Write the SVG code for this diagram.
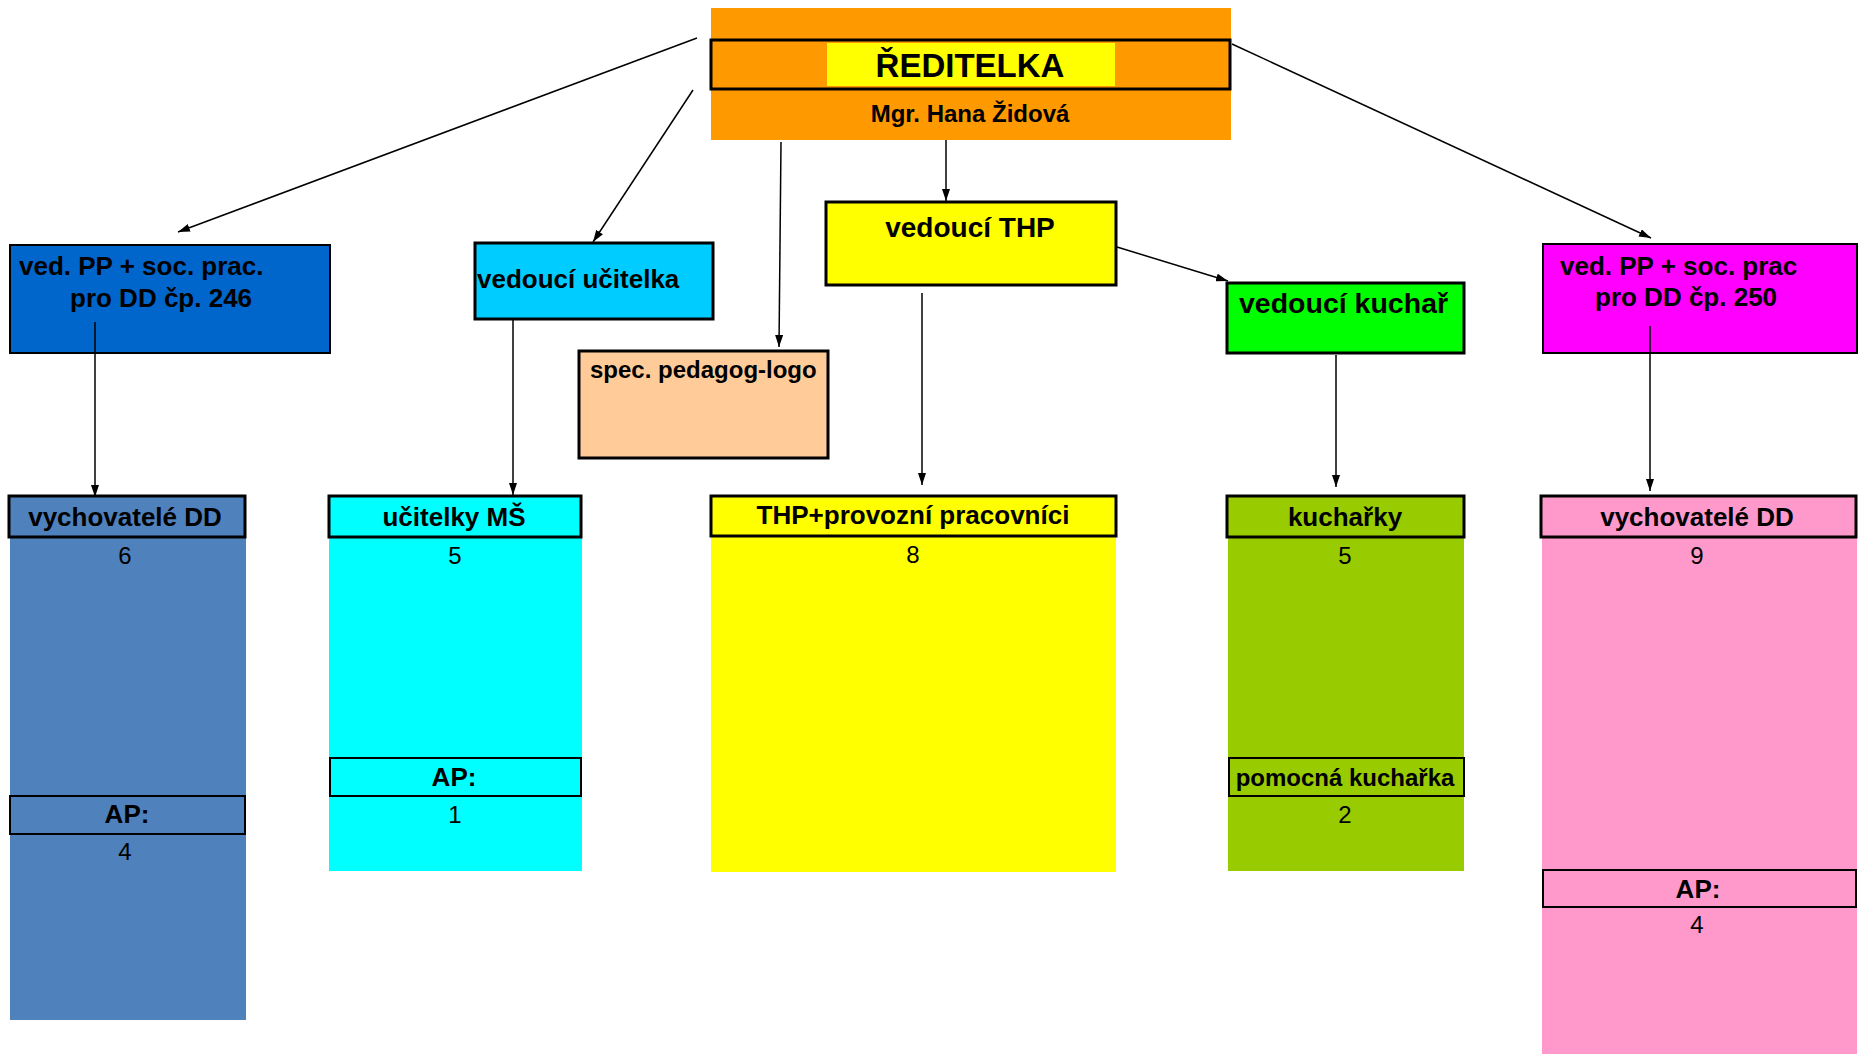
<svg xmlns="http://www.w3.org/2000/svg" width="1860" height="1054" viewBox="0 0 1860 1054">
<defs>
<marker id="ah" markerWidth="12" markerHeight="8" refX="12" refY="4" orient="auto" markerUnits="userSpaceOnUse">
<path d="M0,0 L12,4 L0,8 Z" fill="#000"/>
</marker>
<clipPath id="clipUc"><rect x="475" y="243" width="238" height="76"/></clipPath>
<style>
text{font-family:"Liberation Sans",Arial,sans-serif;fill:#000}
.b{font-weight:bold}
.c{text-anchor:middle}
.n{font-size:24px}
.thick{stroke:#000;stroke-width:3}
.thin{stroke:#000;stroke-width:2}
.conn line{stroke:#000;stroke-width:1.5;fill:none;marker-end:url(#ah)}
</style>
</defs>
<rect width="1860" height="1054" fill="#fff"/>

<g id="reditelka">
<rect x="711" y="8" width="520" height="132" fill="#FF9900"/>
<rect x="711" y="40" width="519" height="49" fill="#FF9900" class="thick"/>
<rect x="827" y="43" width="288" height="43" fill="#FFFF00"/>
<text x="970" y="77" class="b c" font-size="33">ŘEDITELKA</text>
<text x="970" y="122" class="b c" font-size="24">Mgr. Hana Židová</text>
</g>

<g id="ved-pp-246">
<rect x="10" y="245" width="320" height="108" fill="#0066CC" class="thin"/>
<text x="19" y="275" class="b" font-size="26">ved. PP + soc. prac.</text>
<text x="70" y="307" class="b" font-size="26">pro DD čp. 246</text>
</g>

<g id="vedouci-ucitelka">
<rect x="475" y="243" width="238" height="76" fill="#00CCFF"/>
<text x="477" y="288" class="b" font-size="26" clip-path="url(#clipUc)">vedoucí učitelka</text>
<rect x="475" y="243" width="238" height="76" fill="none" class="thick"/>
</g>

<g id="spec-pedagog">
<rect x="579" y="351" width="249" height="107" fill="#FFCC99" class="thick"/>
<text x="590" y="378" class="b" font-size="24">spec. pedagog-logo</text>
</g>

<g id="vedouci-thp">
<rect x="826" y="202" width="290" height="83" fill="#FFFF00" class="thick"/>
<text x="970" y="237" class="b c" font-size="28">vedoucí THP</text>
</g>

<g id="vedouci-kuchar">
<rect x="1227" y="283" width="237" height="70" fill="#00FF00" class="thick"/>
<text x="1239" y="313" class="b" font-size="28.5">vedoucí kuchař</text>
</g>

<g id="ved-pp-250">
<rect x="1543" y="244" width="314" height="109" fill="#FF00FF" class="thin"/>
<text x="1560" y="275" class="b" font-size="26">ved. PP + soc. prac</text>
<text x="1595" y="306" class="b" font-size="26">pro DD čp. 250</text>
</g>

<g id="vychovatele-246">
<rect x="10" y="537" width="236" height="483" fill="#4F81BD"/>
<rect x="9" y="496" width="236" height="41" fill="#4F81BD" class="thick"/>
<text x="125" y="526" class="b c" font-size="26">vychovatelé DD</text>
<text x="125" y="564" class="c n">6</text>
<rect x="10" y="796" width="235" height="38" fill="#4F81BD" class="thin"/>
<text x="127" y="823" class="b c" font-size="26">AP:</text>
<text x="125" y="860" class="c n">4</text>
</g>

<g id="ucitelky-ms">
<rect x="329" y="537" width="253" height="334" fill="#00FFFF"/>
<rect x="329" y="496" width="252" height="41" fill="#00FFFF" class="thick"/>
<text x="454" y="526" class="b c" font-size="26">učitelky MŠ</text>
<text x="455" y="564" class="c n">5</text>
<rect x="330" y="758" width="251" height="38" fill="#00FFFF" class="thin"/>
<text x="454" y="786" class="b c" font-size="26">AP:</text>
<text x="455" y="823" class="c n">1</text>
</g>

<g id="thp-provozni">
<rect x="711" y="537" width="405" height="335" fill="#FFFF00"/>
<rect x="711" y="496" width="405" height="40" fill="#FFFF00" class="thick"/>
<text x="913" y="524" class="b c" font-size="26">THP+provozní pracovníci</text>
<text x="913" y="563" class="c n">8</text>
</g>

<g id="kucharky">
<rect x="1228" y="537" width="236" height="334" fill="#99CC00"/>
<rect x="1227" y="496" width="237" height="41" fill="#99CC00" class="thick"/>
<text x="1345" y="526" class="b c" font-size="26">kuchařky</text>
<text x="1345" y="564" class="c n">5</text>
<rect x="1229" y="758" width="235" height="38" fill="#99CC00" class="thin"/>
<text x="1345" y="786" class="b c" font-size="24">pomocná kuchařka</text>
<text x="1345" y="823" class="c n">2</text>
</g>

<g id="vychovatele-250">
<rect x="1542" y="537" width="315" height="517" fill="#FF99CC"/>
<rect x="1541" y="496" width="315" height="41" fill="#FF99CC" class="thick"/>
<text x="1697" y="526" class="b c" font-size="26">vychovatelé DD</text>
<text x="1697" y="564" class="c n">9</text>
<rect x="1543" y="870" width="313" height="37" fill="#FF99CC" class="thin"/>
<text x="1698" y="898" class="b c" font-size="26">AP:</text>
<text x="1697" y="933" class="c n">4</text>
</g>

<g id="connectors" class="conn">
<line x1="697" y1="38" x2="178" y2="232"/>
<line x1="693" y1="90" x2="593" y2="242"/>
<line x1="781" y1="142" x2="779" y2="347"/>
<line x1="946" y1="140" x2="946" y2="201"/>
<line x1="1117" y1="247" x2="1228" y2="281"/>
<line x1="1232" y1="44" x2="1651" y2="238"/>
<line x1="95" y1="322" x2="95" y2="497"/>
<line x1="513" y1="320" x2="513" y2="495"/>
<line x1="922" y1="293" x2="922" y2="485"/>
<line x1="1336" y1="355" x2="1336" y2="487"/>
<line x1="1650" y1="326" x2="1650" y2="491"/>
</g>
</svg>
